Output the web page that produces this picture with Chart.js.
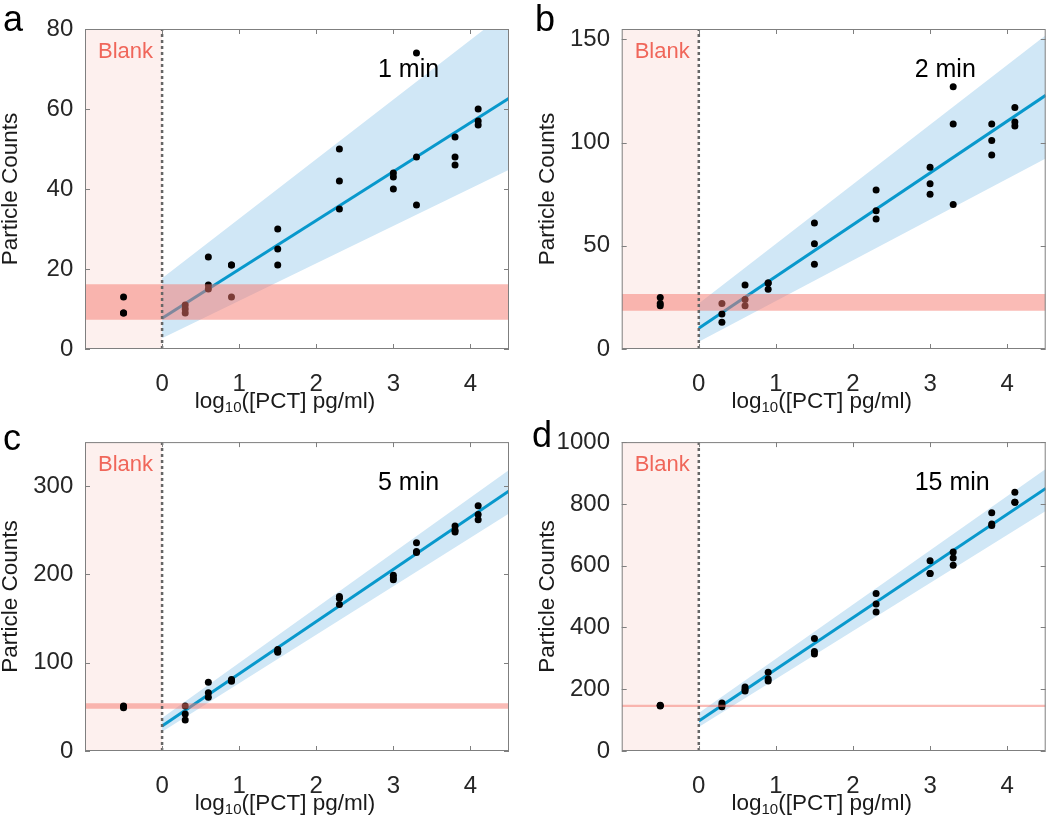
<!DOCTYPE html>
<html>
<head>
<meta charset="utf-8">
<script src="https://cdn.jsdelivr.net/npm/chart.js@4.4.0/dist/chart.umd.min.js"></script>
<style>
  body { margin: 0; background: #fff; }
  .panel { position: absolute; }
</style>
</head>
<body>
<div class="panel" style="left:0;top:0"><canvas id="chartA" width="525" height="416"></canvas></div>
<div class="panel" style="left:525px;top:0"><canvas id="chartB" width="525" height="416"></canvas></div>
<div class="panel" style="left:0;top:416px"><canvas id="chartC" width="525" height="400"></canvas></div>
<div class="panel" style="left:525px;top:416px"><canvas id="chartD" width="525" height="400"></canvas></div>
<script>
// log10 concentration levels (first one is the blank, drawn left of zero)
const xLevels = [-0.5, 0.3, 0.6, 0.9, 1.5, 2.3, 3.0, 3.3, 3.8, 4.1];
const xTicks = [0, 1, 2, 3, 4];
const xMin = -1;
const xMax = 4.5;
const fitX = [0, 4.5];

// 1 min
const countsA = [[13, 9, 9], [11, 10, 9], [23, 16, 15], [21, 21, 13], [30, 25, 21],
  [50, 42, 35], [44, 43, 40], [74, 48, 36], [53, 48, 46], [60, 57, 56]];
const fitA = [7.7, 62.7];
const upperA = [17.7, 84.7];
const lowerA = [2.7, 44.8];
const blankBandA = [7.3, 16.2];
const yTicksA = [0, 20, 40, 60, 80];

// 2 min
const countsB = [[25, 22, 21], [22, 17, 13], [31, 24, 21], [32, 32, 29], [61, 51, 41],
  [77, 67, 63], [88, 80, 75], [127, 109, 70], [109, 101, 94], [117, 110, 108]];
const fitB = [10, 122.9];
const upperB = [22, 152];
const lowerB = [3.5, 92.3];
const blankBandB = [18.5, 26.6];
const yTicksB = [0, 50, 100, 150];

// 5 min
const countsC = [[51, 50, 49], [51, 42, 35], [78, 66, 61], [81, 80, 79], [115, 113, 112],
  [175, 173, 166], [199, 196, 194], [236, 226, 225], [255, 250, 248], [278, 268, 262]];
const fitC = [28.4, 294.6];
const upperC = [37.5, 318.3];
const lowerC = [21.9, 269];
const blankBandC = [47.8, 54];
const yTicksC = [0, 100, 200, 300];

// 15 min
const countsD = [[148, 147, 146], [155, 148, 143], [207, 200, 194], [255, 233, 227], [364, 322, 314],
  [510, 476, 450], [616, 575, 575], [644, 625, 601], [771, 735, 730], [838, 805, 805]];
const fitD = [97, 850];
const upperD = [123, 913];
const lowerD = [78, 777];
const blankBandD = [142.3, 149.6];
const yTicksD = [0, 200, 400, 600, 800, 1000];

const FONT = 'Liberation Sans, Arial, Helvetica, sans-serif';

const panels = [
  { id: 'chartA', letter: 'a', time: '1 min', counts: countsA, fit: fitA, upper: upperA, lower: lowerA,
    band: blankBandA, yTicks: yTicksA, yMax: 80, pad: { left: 0, right: 16, top: 29, bottom: 0 },
    yWidth: 85, xHeight: 67, titlePad: 0, letterX: 3, letterY: 31 },
  { id: 'chartB', letter: 'b', time: '2 min', counts: countsB, fit: fitB, upper: upperB, lower: lowerB,
    band: blankBandB, yTicks: yTicksB, yMax: 155, pad: { left: 0, right: 4.3, top: 29, bottom: 0 },
    yWidth: 96.7, xHeight: 67, titlePad: 11.7, letterX: 10, letterY: 31 },
  { id: 'chartC', letter: 'c', time: '5 min', counts: countsC, fit: fitC, upper: upperC, lower: lowerC,
    band: blankBandC, yTicks: yTicksC, yMax: 350, pad: { left: 0, right: 16, top: 15.7, bottom: 0 },
    yWidth: 85, xHeight: 65, titlePad: 0, letterX: 3, letterY: 34 },
  { id: 'chartD', letter: 'd', time: '15 min', counts: countsD, fit: fitD, upper: upperD, lower: lowerD,
    band: blankBandD, yTicks: yTicksD, yMax: 1000, pad: { left: 0, right: 4.3, top: 15.7, bottom: 0 },
    yWidth: 96.7, xHeight: 65, titlePad: 11.7, letterX: 7, letterY: 31 }
];

function pts(xs, ys) {
  return xs.map((x, i) => ({ x: x, y: ys[i] }));
}

// box, inward ticks and the annotation texts (MATLAB look)
function framePlugin(p) {
  return {
    id: 'frame',
    afterDraw(chart) {
      const { ctx, chartArea: a, scales: { x, y } } = chart;
      ctx.save();
      ctx.strokeStyle = '#7f7f7f';
      ctx.lineWidth = 1;
      ctx.strokeRect(a.left + 0.5, a.top + 0.5, a.width - 1, a.height - 1);
      ctx.beginPath();
      x.ticks.forEach(t => {
        const px = Math.round(x.getPixelForValue(t.value)) + 0.5;
        ctx.moveTo(px, a.bottom); ctx.lineTo(px, a.bottom - 5);
        ctx.moveTo(px, a.top); ctx.lineTo(px, a.top + 5);
      });
      y.ticks.forEach(t => {
        const py = Math.round(y.getPixelForValue(t.value)) + 0.5;
        ctx.moveTo(a.left, py); ctx.lineTo(a.left + 5, py);
        ctx.moveTo(a.right, py); ctx.lineTo(a.right - 5, py);
      });
      ctx.stroke();

      ctx.textBaseline = 'alphabetic';
      ctx.textAlign = 'left';
      // "Blank" label
      ctx.fillStyle = '#f0665a';
      ctx.font = '22px ' + FONT;
      ctx.fillText('Blank', a.left + 13, a.top + 29);
      // time label
      ctx.fillStyle = '#000';
      ctx.font = '25px ' + FONT;
      ctx.fillText(p.time, a.left + 293, a.top + 48);
      // panel letter
      ctx.font = '36px ' + FONT;
      ctx.fillText(p.letter, p.letterX, p.letterY);

      // x axis title with subscript
      const main = '22.5px ' + FONT, sub = '15px ' + FONT;
      ctx.font = main; const w1 = ctx.measureText('log').width;
      const w3 = ctx.measureText('([PCT] pg/ml)').width;
      ctx.font = sub; const w2 = ctx.measureText('10').width;
      const total = w1 + w2 + w3;
      let tx = (a.left + a.right) / 2 - 12 - total / 2;
      const base = a.bottom + 59;
      ctx.fillStyle = '#1a1a1a';
      ctx.font = main; ctx.fillText('log', tx, base); tx += w1;
      ctx.font = sub; ctx.fillText('10', tx, base + 4); tx += w2;
      ctx.font = main; ctx.fillText('([PCT] pg/ml)', tx, base);
      ctx.restore();
    }
  };
}

panels.forEach(p => {
  const blankPts = p.counts[0].map(v => ({ x: xLevels[0], y: v }));
  const repPts = p.counts.slice(1).flatMap((vals, i) => vals.map(v => ({ x: xLevels[i + 1], y: v })));
  const ctx = document.getElementById(p.id).getContext('2d');

  new Chart(ctx, {
    type: 'scatter',
    data: {
      datasets: [
        { // blank region (x < 0)
          type: 'line', data: [{ x: xMin, y: p.yMax }, { x: 0, y: p.yMax }], fill: 'origin',
          backgroundColor: '#fdf0ee', borderColor: 'transparent', borderWidth: 0, pointRadius: 0, order: 10
        },
        { // confidence band upper edge, filled to next dataset
          type: 'line', data: pts(fitX, p.upper), fill: '+1',
          backgroundColor: '#d0e7f6', borderColor: 'transparent', borderWidth: 0, pointRadius: 0, order: 9
        },
        {
          type: 'line', data: pts(fitX, p.lower), fill: false,
          borderColor: 'transparent', borderWidth: 0, pointRadius: 0, order: 8
        },
        { // linear fit
          type: 'line', data: pts(fitX, p.fit), fill: false,
          borderColor: '#0898cc', borderWidth: 3, pointRadius: 0, order: 6
        },
        {
          type: 'scatter', data: repPts, backgroundColor: '#000', borderWidth: 0, pointRadius: 3.5, order: 5
        },
        { // blank mean +/- range, horizontal band
          type: 'line', data: [{ x: xMin, y: p.band[1] }, { x: xMax, y: p.band[1] }], fill: '+1',
          backgroundColor: 'rgba(245,120,110,0.5)', borderColor: 'transparent', borderWidth: 0, pointRadius: 0, order: 4
        },
        {
          type: 'line', data: [{ x: xMin, y: p.band[0] }, { x: xMax, y: p.band[0] }], fill: false,
          borderColor: 'transparent', borderWidth: 0, pointRadius: 0, order: 3
        },
        { // dotted line at zero
          type: 'line', data: [{ x: 0, y: 0 }, { x: 0, y: p.yMax }], fill: false,
          borderColor: '#666666', borderWidth: 2.5, borderDash: [3, 3], pointRadius: 0, order: 2
        },
        {
          type: 'scatter', data: blankPts, backgroundColor: '#000', borderWidth: 0, pointRadius: 3.5, order: 1
        }
      ]
    },
    options: {
      responsive: false,
      animation: false,
      events: [],
      layout: { padding: p.pad },
      plugins: { legend: { display: false }, tooltip: { enabled: false } },
      scales: {
        x: {
          type: 'linear', min: xMin, max: xMax,
          afterBuildTicks: s => { s.ticks = xTicks.map(v => ({ value: v })); },
          afterFit: s => { s.height = p.xHeight; },
          grid: { display: false, drawTicks: false },
          border: { display: false },
          ticks: { color: '#262626', font: { family: FONT, size: 24 }, padding: 21, maxRotation: 0,
            callback: v => String(v) }
        },
        y: {
          type: 'linear', min: 0, max: p.yMax,
          afterBuildTicks: s => { s.ticks = p.yTicks.map(v => ({ value: v })); },
          afterFit: s => { s.width = p.yWidth; },
          grid: { display: false, drawTicks: false },
          border: { display: false },
          ticks: { color: '#262626', font: { family: FONT, size: 24 }, padding: 11.7,
            callback: v => String(v) },
          title: {
            display: true, text: 'Particle Counts', color: '#1a1a1a',
            font: { family: FONT, size: 22.5, lineHeight: 1 }, padding: { top: p.titlePad, bottom: 0 }
          }
        }
      }
    },
    plugins: [framePlugin(p)]
  });
});
</script>
</body>
</html>
